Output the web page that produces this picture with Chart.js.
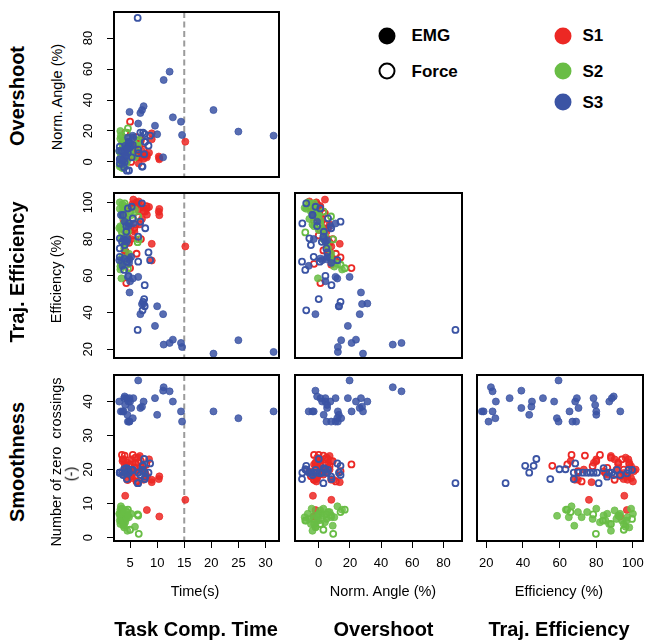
<!DOCTYPE html>
<html>
<head>
<meta charset="utf-8">
<script src="https://cdn.jsdelivr.net/npm/chart.js@4.4.0/dist/chart.umd.min.js"></script>
<style>
    body { margin: 0; background: #fff; }
    #page { position: relative; width: 645px; height: 641px; overflow: hidden; font-family: "Liberation Sans", Arial, sans-serif; color: #000; }
    #page canvas { position: absolute; }
    .lbl { position: absolute; white-space: pre; line-height: 1; transform: translate(-50%, -50%); }
    .lbl.rot { transform: translate(-50%, -50%) rotate(-90deg); }
    .title { font-weight: bold; font-size: 20px; }
    .axis { font-size: 14.5px; }
    .leg { position: absolute; font-weight: bold; font-size: 17px; line-height: 1; transform: translateY(-50%); }
    .dot { position: absolute; width: 17px; height: 17px; border-radius: 50%; box-sizing: border-box; transform: translate(-50%, -50%); }
</style>
</head>
<body>
<div id="page"></div>
<script>
// Colours (r, g, b)
const S1_RGB = '236, 40, 36';
const S2_RGB = '105, 189, 69';
const S3_RGB = '59, 84, 164';

// Tick labels
const TIME_TICKS = [5, 10, 15, 20, 25, 30];
const OVERSHOOT_TICKS = [0, 20, 40, 60, 80];
const EFFICIENCY_TICKS = [20, 40, 60, 80, 100];
const CROSSING_TICKS = [0, 10, 20, 30, 40];

// S3 - EMG (filled blue)
const s3EmgTime = [20.4, 31.5, 14.6, 11.2, 12.3, 14.4, 12.9, 25.0, 9.6, 11.1, 6.9, 10.0, 7.5, 4.9, 5.0, 5.5, 4.6, 6.5, 3.6, 4.8, 3.0, 4.9, 3.9, 5.2, 4.4, 4.1, 3.8, 4.5, 4.7, 5.6, 4.0, 3.3, 7.2];
const s3EmgOvershoot = [33.5, 17.0, 17.4, 52.9, 58.3, 26.0, 28.8, 19.6, 23.4, 3.0, 31.6, 17.9, 36.0, 32.3, 9.3, 16.9, 15.8, 24.8, -1.4, 13.0, 7.2, 10.0, 6.1, 10.4, 9.3, 10.4, 1.8, 8.2, 12.5, 15.8, 4.0, 1.0, 33.5];
const s3EmgOvershootX = [28.4, 12.3, 12.3, 47.5, 53.1, 21.1, 23.9, 14.4, 18.7, -2.1, 26.3, 12.9, 31.2, 27.1, 4.3, 11.9, 10.8, 19.8, -6.4, 8.0, 2.2, 5.0, 1.1, 5.4, 4.3, 5.4, -3.2, 3.2, 7.5, 10.8, -1.0, -4.0, 27.8];
const s3EmgEff = [17.6, 18.5, 21.2, 22.5, 23.4, 23.4, 25.2, 24.9, 32.7, 39.1, 39.1, 43.4, 44.9, 50.9, 57.0, 58.5, 59.4, 59.4, 65.4, 67.0, 68.5, 69.0, 69.4, 70.3, 78.5, 79.4, 80.0, 80.0, 87.1, 88.5, 89.5, 93.1, 44.6];
const s3EmgCross = [37.1, 37.1, 34.1, 44.2, 43.0, 37.1, 40.0, 35.1, 41.0, 43.2, 38.1, 36.1, 40.0, 41.0, 40.0, 35.1, 34.1, 46.2, 37.1, 34.1, 40.0, 34.1, 41.0, 38.1, 41.0, 39.0, 37.1, 36.1, 40.0, 41.0, 41.5, 37.1, 38.5];

// S3 - Force (open blue)
const s3ForceTime = [6.4, 7.3, 7.7, 7.4, 7.6, 7.7, 4.7, 3.9, 6.5, 4.4, 8.7, 3.1, 8.4, 3.1, 4.0, 3.5, 3.1, 6.5, 4.3, 7.8, 4.3, 4.8, 6.9, 5.5, 3.7, 4.6, 5.3, 7.2];
const s3ForceOvershoot = [93.0, -3.0, 18.0, 19.0, 5.0, 13.0, 9.3, -3.6, 5.7, -5.6, 17.0, 1.8, 10.5, 9.9, 0.0, 7.0, -1.0, 8.0, 8.3, 13.0, 4.0, -5.5, 19.0, 11.0, 1.0, 6.0, 3.0, -3.0];
const s3ForceOvershootX = [87.7, -8.0, 13.0, 14.0, 0.0, 8.2, 4.3, -8.6, 0.7, -10.7, 12.0, -3.2, 5.5, 4.9, -5.0, 2.0, -6.0, 3.0, 3.3, 8.0, -1.0, -10.5, 14.0, 6.0, -4.0, 1.0, -2.0, -8.0];
const s3ForceEff = [30.5, 41.2, 43.4, 45.8, 47.3, 54.9, 59.9, 63.2, 67.7, 67.7, 68.5, 70.3, 72.7, 74.9, 76.7, 78.5, 80.4, 81.3, 84.0, 85.9, 87.1, 88.5, 89.5, 91.3, 93.1, 96.7, 97.6, 99.5];
const s3ForceCross = [16.0, 21.1, 19.1, 21.1, 23.1, 17.2, 20.1, 20.1, 19.1, 17.2, 21.8, 19.1, 19.1, 19.1, 19.1, 19.1, 19.1, 16.0, 20.4, 17.9, 19.1, 19.1, 18.4, 19.9, 18.4, 18.9, 19.9, 19.9];

// S2 - EMG (filled green)
const s2EmgTime = [3.2, 3.5, 3.4, 3.3, 3.6, 3.8, 3.1, 3.9, 4.2, 4.0, 3.3, 3.2, 3.7, 4.5, 3.5, 3.0, 4.1, 4.8, 3.6, 5.9, 3.4, 3.9, 4.3, 3.2, 5.2, 3.8, 4.6, 3.1];
const s2EmgOvershoot = [15.0, 12.0, 8.0, 5.0, 2.0, 0.0, -2.0, 3.0, 6.0, 10.0, 17.0, 20.0, -4.0, 1.0, 4.0, 7.0, 9.0, 13.0, 0.5, 3.0, 4.5, 11.0, -1.0, 2.0, 5.0, 14.0, 8.0, -3.0];
const s2EmgOvershootX = [10.0, 7.0, 3.0, 0.0, -3.0, -5.0, -7.0, -2.0, 1.0, 5.0, 12.0, 15.0, -9.0, -4.0, -1.0, 2.0, 4.0, 8.0, -4.5, -2.0, -0.5, 6.0, -6.0, -3.0, 0.0, 9.0, 3.0, -8.0];
const s2EmgEff = [65.0, 70.0, 80.0, 85.0, 92.0, 95.0, 100.0, 98.0, 90.0, 78.0, 66.5, 63.4, 97.0, 88.0, 94.0, 86.0, 82.0, 72.0, 99.0, 96.0, 58.6, 75.0, 91.0, 87.0, 93.0, 68.0, 84.0, 96.5];
const s2EmgCross = [6.0, 7.5, 8.5, 5.0, 6.5, 4.0, 7.0, 3.0, 8.0, 5.5, 9.2, 8.2, 6.0, 2.0, 5.0, 7.0, 4.5, 6.0, 8.5, 3.2, 6.4, 7.5, 5.5, 4.0, 7.0, 3.5, 6.5, 5.0];

// S2 - Force (open green)
const s2ForceTime = [6.6, 4.6, 4.4, 6.5, 3.5, 6.4, 4.0, 3.8, 5.0];
const s2ForceOvershoot = [14.3, 21.7, 19.0, 12.9, -3.6, 10.0, 2.0, 6.0, 8.0];
const s2ForceOvershootX = [9.3, 16.7, 14.0, 7.9, -8.6, 5.0, -3.0, 1.0, 3.0];
const s2ForceEff = [79.8, 64.1, 66.0, 92.3, 83.6, 78.3, 99.5, 88.0, 95.0];
const s2ForceCross = [1.1, 8.2, 7.5, 6.5, 5.0, 6.8, 5.5, 4.0, 2.3];

// S1 - EMG (filled red)
const s1EmgTime = [15.2, 4.1, 8.1, 10.4, 10.4, 10.3, 9.0, 9.0, 8.1, 7.5, 5.6, 6.0, 6.5, 7.0, 7.8, 6.8, 5.2, 4.5, 4.2, 5.0, 4.0, 3.8, 6.2, 5.8, 4.6, 7.2, 3.6, 8.5, 5.4, 6.6];
const s1EmgOvershoot = [13.1, 1.3, 3.0, 1.7, 2.5, 3.5, 18.5, 14.6, 4.5, 2.0, 9.0, 6.0, 4.0, 3.0, 5.0, 12.0, 11.0, 11.0, 12.0, 8.0, 2.0, 6.0, 3.5, 10.0, 13.0, 7.0, 13.0, 6.0, 4.0, -1.0];
const s1EmgOvershootX = [8.1, -3.7, -2.0, -3.3, -2.5, -1.5, 13.5, 9.6, -0.5, -3.0, 4.0, 1.0, -1.0, -2.0, 0.0, 7.0, 6.0, 6.0, 7.0, 3.0, -3.0, 1.0, -1.5, 5.0, 8.0, 2.0, 8.0, 1.0, -1.0, -6.0];
const s1EmgEff = [76.0, 95.3, 96.7, 93.0, 96.4, 94.9, 77.4, 68.3, 93.3, 97.0, 101.5, 98.0, 96.0, 99.0, 95.0, 88.0, 80.0, 78.7, 73.2, 86.0, 92.0, 90.0, 100.0, 84.0, 70.0, 91.0, 66.0, 97.5, 99.0, 100.5];
const s1EmgCross = [11.1, 12.3, 8.1, 6.2, 18.0, 17.2, 16.3, 17.0, 18.0, 17.0, 20.0, 22.0, 23.5, 21.0, 19.0, 24.0, 23.0, 22.0, 20.0, 18.5, 21.5, 23.0, 16.5, 19.5, 17.0, 20.0, 22.5, 23.0, 17.5, 19.5];

// S1 - Force (open red)
const s1ForceTime = [5.0, 4.3, 3.5, 4.0, 5.5, 6.0, 6.5, 7.5, 4.8, 3.9, 5.2, 7.0, 4.5, 6.2, 3.7, 8.0, 5.8, 4.1];
const s1ForceOvershoot = [26.0, 6.1, 2.0, 8.0, 5.0, 10.0, 3.0, 8.0, 12.0, 6.0, 0.0, 14.0, 2.0, 16.0, 9.0, 4.0, 11.0, 19.0];
const s1ForceOvershootX = [21.0, 1.1, -3.0, 3.0, 0.0, 5.0, -2.0, 3.0, 7.0, 1.0, -5.0, 9.0, -3.0, 11.0, 4.0, -1.0, 6.0, 14.0];
const s1ForceEff = [64.2, 56.0, 66.5, 73.8, 82.0, 88.0, 92.0, 95.0, 78.0, 85.0, 97.0, 80.0, 90.0, 72.0, 94.0, 98.0, 86.0, 70.0];
const s1ForceCross = [21.5, 21.1, 24.3, 24.1, 24.3, 23.5, 22.0, 20.0, 21.0, 19.0, 18.0, 22.5, 17.0, 16.5, 23.0, 21.5, 20.5, 19.5];

// Groups, first one is drawn on top
const groups = [
    { rgb: S3_RGB, filled: true, time: s3EmgTime, overshoot: s3EmgOvershoot, overshootX: s3EmgOvershootX, efficiency: s3EmgEff, crossings: s3EmgCross },
    { rgb: S3_RGB, filled: false, time: s3ForceTime, overshoot: s3ForceOvershoot, overshootX: s3ForceOvershootX, efficiency: s3ForceEff, crossings: s3ForceCross },
    { rgb: S2_RGB, filled: true, time: s2EmgTime, overshoot: s2EmgOvershoot, overshootX: s2EmgOvershootX, efficiency: s2EmgEff, crossings: s2EmgCross },
    { rgb: S2_RGB, filled: false, time: s2ForceTime, overshoot: s2ForceOvershoot, overshootX: s2ForceOvershootX, efficiency: s2ForceEff, crossings: s2ForceCross },
    { rgb: S1_RGB, filled: true, time: s1EmgTime, overshoot: s1EmgOvershoot, overshootX: s1EmgOvershootX, efficiency: s1EmgEff, crossings: s1EmgCross },
    { rgb: S1_RGB, filled: false, time: s1ForceTime, overshoot: s1ForceOvershoot, overshootX: s1ForceOvershootX, efficiency: s1ForceEff, crossings: s1ForceCross }
];

// Axis ranges
const axes = {
    time: { min: 2.03, max: 32.5, ticks: TIME_TICKS },
    overshoot: { min: -9.7, max: 96.8, ticks: OVERSHOOT_TICKS },
    overshootX: { min: -15.2, max: 91.9, ticks: OVERSHOOT_TICKS },
    efficiency: { min: 15.2, max: 105.1, ticks: EFFICIENCY_TICKS },
    efficiencyX: { min: 14.9, max: 105.5, ticks: EFFICIENCY_TICKS },
    crossings: { min: -1.0, max: 47.8, ticks: CROSSING_TICKS }
};

// Panels: frame = [left, top, right, bottom] on the page
const panels = [
    { frame: [114, 12, 279, 177], xKey: 'time', yKey: 'overshoot', xAxis: 'time', yAxis: 'overshoot', showX: false, showY: true, dashX: 15 },
    { frame: [114, 193, 279, 358], xKey: 'time', yKey: 'efficiency', xAxis: 'time', yAxis: 'efficiency', showX: false, showY: true, dashX: 15 },
    { frame: [295, 193, 462, 358], xKey: 'overshootX', yKey: 'efficiency', xAxis: 'overshootX', yAxis: 'efficiency', showX: false, showY: false },
    { frame: [114, 375, 279, 541], xKey: 'time', yKey: 'crossings', xAxis: 'time', yAxis: 'crossings', showX: true, showY: true, dashX: 15 },
    { frame: [295, 375, 462, 541], xKey: 'overshootX', yKey: 'crossings', xAxis: 'overshootX', yAxis: 'crossings', showX: true, showY: false },
    { frame: [477, 375, 643, 541], xKey: 'efficiency', yKey: 'crossings', xAxis: 'efficiencyX', yAxis: 'crossings', showX: true, showY: false }
];

const FONT = '"Liberation Sans", Arial, sans-serif';
const page = document.getElementById('page');

// Frame, dashed 15 s line and rotated y tick labels
const panelDecor = {
    id: 'panelDecor',
    beforeDatasetsDraw(chart, args, opts) {
        if (opts.dashX === undefined) return;
        const { ctx, chartArea: a } = chart;
        const px = chart.scales.x.getPixelForValue(opts.dashX);
        ctx.save();
        ctx.strokeStyle = '#9b9b9b';
        ctx.lineWidth = 2;
        ctx.setLineDash([6, 3.5]);
        ctx.beginPath();
        ctx.moveTo(px, a.top);
        ctx.lineTo(px, a.bottom);
        ctx.stroke();
        ctx.restore();
    },
    afterDraw(chart, args, opts) {
        const { ctx, chartArea: a } = chart;
        ctx.save();
        ctx.strokeStyle = '#000';
        ctx.lineWidth = 2;
        ctx.strokeRect(a.left, a.top, a.right - a.left, a.bottom - a.top);
        if (opts.yLabels) {
            ctx.fillStyle = '#000';
            ctx.font = '13px ' + FONT;
            ctx.textAlign = 'center';
            ctx.textBaseline = 'middle';
            opts.yLabels.forEach(v => {
                const py = chart.scales.y.getPixelForValue(v);
                ctx.save();
                ctx.translate(a.left - 26, py);
                ctx.rotate(-Math.PI / 2);
                ctx.fillText(String(v), 0, 0);
                ctx.restore();
            });
        }
        ctx.restore();
    }
};

function tickGrid() {
    return { display: true, drawOnChartArea: false, drawTicks: true, tickLength: 7, color: '#000', lineWidth: 1 };
}

function buildDatasets(panel) {
    return groups.map(g => ({
        data: g[panel.xKey].map((x, i) => ({ x: x, y: g[panel.yKey][i] })),
        pointRadius: g.filled ? 3.5 : 3.0,
        pointBackgroundColor: g.filled ? `rgba(${g.rgb}, 0.85)` : 'rgba(0, 0, 0, 0)',
        pointBorderColor: g.filled ? `rgba(${g.rgb}, 0.95)` : `rgb(${g.rgb})`,
        pointBorderWidth: g.filled ? 0.8 : 1.8,
        showLine: false,
        clip: false
    }));
}

function makePanel(panel) {
    const [L, T, R, B] = panel.frame;
    const padLeft = panel.showY ? 40 : 10;
    const padBottom = panel.showX ? 40 : 10;
    const canvas = document.createElement('canvas');
    canvas.width = padLeft + (R - L) + 10;
    canvas.height = 10 + (B - T) + padBottom;
    canvas.style.left = (L - padLeft) + 'px';
    canvas.style.top = (T - 10) + 'px';
    page.appendChild(canvas);

    const xa = axes[panel.xAxis];
    const ya = axes[panel.yAxis];

    new Chart(canvas.getContext('2d'), {
        type: 'scatter',
        data: { datasets: buildDatasets(panel) },
        options: {
            responsive: false,
            animation: false,
            events: [],
            layout: {
                autoPadding: false,
                padding: { left: panel.showY ? padLeft - 7 : padLeft, top: 10, right: 10, bottom: panel.showX ? 0 : 10 }
            },
            scales: {
                x: {
                    type: 'linear', position: 'bottom', display: panel.showX,
                    min: xa.min, max: xa.max,
                    afterBuildTicks: s => { s.ticks = xa.ticks.map(v => ({ value: v })); },
                    afterFit: s => { s.height = panel.showX ? 40 : 0; },
                    grid: tickGrid(),
                    border: { display: false },
                    ticks: { autoSkip: false, maxRotation: 0, minRotation: 0, padding: 8, color: '#000', font: { size: 13, family: FONT } }
                },
                y: {
                    type: 'linear', position: 'left', display: panel.showY,
                    min: ya.min, max: ya.max,
                    afterBuildTicks: s => { s.ticks = ya.ticks.map(v => ({ value: v })); },
                    afterFit: s => { s.width = panel.showY ? 7 : 0; },
                    grid: tickGrid(),
                    border: { display: false },
                    ticks: { display: false }
                }
            },
            plugins: {
                legend: { display: false },
                tooltip: { enabled: false },
                panelDecor: { dashX: panel.dashX, yLabels: panel.showY ? ya.ticks : null }
            }
        },
        plugins: [panelDecor]
    });
}

// Text helper
function addText(text, x, y, cls, rotated) {
    const el = document.createElement('div');
    el.className = 'lbl ' + cls + (rotated ? ' rot' : '');
    el.textContent = text;
    el.style.left = x + 'px';
    el.style.top = y + 'px';
    page.appendChild(el);
}

function addDot(x, y, style) {
    const el = document.createElement('div');
    el.className = 'dot';
    el.style.left = x + 'px';
    el.style.top = y + 'px';
    Object.assign(el.style, style);
    page.appendChild(el);
}

function addLegendText(text, x, y) {
    const el = document.createElement('div');
    el.className = 'leg';
    el.textContent = text;
    el.style.left = x + 'px';
    el.style.top = y + 'px';
    page.appendChild(el);
}

panels.forEach(makePanel);

// Row and column titles
addText('Overshoot', 17, 96, 'title', true);
addText('Traj. Efficiency', 17, 272, 'title', true);
addText('Smoothness', 17, 462, 'title', true);
addText('Task Comp. Time', 196, 629, 'title', false);
addText('Overshoot', 383.5, 629, 'title', false);
addText('Traj. Efficiency', 559, 629, 'title', false);

// Axis titles
addText('Norm. Angle (%)', 57, 97, 'axis', true);
addText('Efficiency (%)', 56, 279, 'axis', true);
addText('Number of zero  crossings', 56, 462, 'axis', true);
addText('(-)', 71, 474, 'axis', true);
addText('Time(s)', 195, 591, 'axis', false);
addText('Norm. Angle (%)', 383, 591, 'axis', false);
addText('Efficiency (%)', 559, 591, 'axis', false);

// Legend
addDot(386.7, 36, { background: '#000' });
addDot(386.7, 71, { background: '#fff', border: '2px solid #000' });
addLegendText('EMG', 411.5, 35);
addLegendText('Force', 411.5, 71);
addDot(563, 36, { background: `rgb(${S1_RGB})` });
addDot(563, 71, { background: `rgb(${S2_RGB})` });
addDot(563, 102, { background: `rgb(${S3_RGB})` });
addLegendText('S1', 582.5, 35);
addLegendText('S2', 582.5, 71);
addLegendText('S3', 582.5, 102);
</script>
</body>
</html>
